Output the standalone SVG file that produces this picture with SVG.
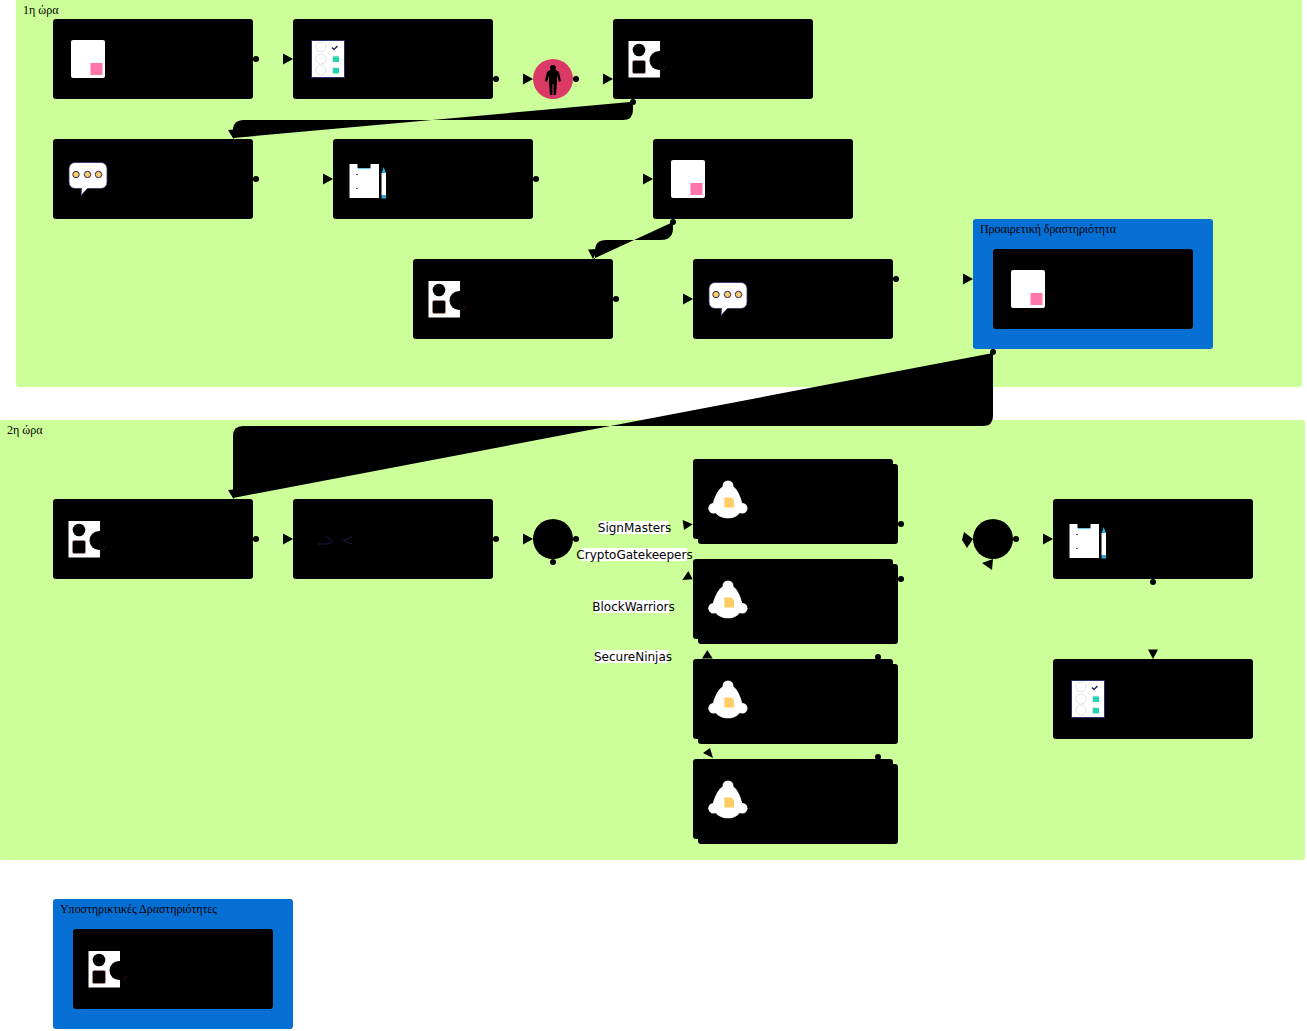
<svg xmlns="http://www.w3.org/2000/svg" width="1307" height="1031" viewBox="0 0 1307 1031">
<style>
.lane{fill:#ccff99}
.box{fill:#000}
.opt{fill:#066fd4}
.t{font-family:"Liberation Serif",serif;font-size:12px;fill:#000}
.l{font-family:"DejaVu Sans",sans-serif;font-size:12px;fill:#000;text-anchor:middle}
.lb{fill:#fff}
.face{fill:#fff;stroke:#dcdcdc;stroke-width:.8}
.nv{fill:none;stroke:#24265e;stroke-width:.8}
</style>
<defs>
<path id="ah" d="M0 0L-10 -5.5L-10 5.5Z"/>
<circle id="dot" r="3"/>
<g id="i-note"><rect x="18" y="21" width="34" height="38" rx="2" fill="#fff"/><rect x="37.500" y="44" width="12" height="12" fill="#ff77aa"/></g>
<g id="i-check"><rect x="18.500" y="21.500" width="33" height="37" fill="#fff" stroke="#2b2e6b"/><circle class="face" cx="28" cy="28" r="5"/><circle class="face" cx="28" cy="40" r="5"/><circle class="face" cx="28" cy="51" r="5"/><path d="M39 28.500l2 2 3.500-3.500" fill="none" stroke="#24265e" stroke-width="1.500"/><rect x="39" y="36.500" width="6" height="6" fill="#e8e8e8"/><rect x="40" y="37.500" width="6" height="5.500" fill="#1fd6b0"/><rect x="39" y="48" width="6" height="6" fill="#e8e8e8"/><rect x="40" y="49" width="6" height="5.500" fill="#1fd6b0"/></g>
<g id="i-shapes"><rect x="15.500" y="22" width="31.500" height="36.500" fill="#fff"/><circle cx="26" cy="31" r="6.300"/><rect x="19.500" y="41.500" width="13" height="13" rx="1.500" stroke="#e88" stroke-width=".4"/><circle cx="46" cy="41.500" r="9.500"/><path d="M54 46.500a9.500 9.500 0 0 1-4 4" fill="none" stroke="#a33" stroke-width=".4"/></g>
<g id="i-chat"><path d="M22 23.500H48a6 6 0 0 1 6 6V43.500a6 6 0 0 1-6 6H34.500L28 56.500L28.500 49.500H22a6 6 0 0 1-6-6V29.500a6 6 0 0 1 6-6Z" fill="#fff" stroke="#2b2e6b" stroke-width=".8"/><circle cx="23" cy="35.500" r="3.200" fill="#ffcc66" stroke="#24265e"/><circle cx="34.500" cy="35.500" r="3.200" fill="#ffcc66" stroke="#24265e"/><circle cx="45.500" cy="35.500" r="3.200" fill="#ffcc66" stroke="#24265e"/></g>
<g id="i-clip"><path d="M16.500 25H24.500V29H37.500V25H46V59H16.500Z" fill="#fff"/><rect x="24.500" y="29.300" width="13" height=".8" fill="#2aa9d8"/><path d="M23 35.200l1 .8 1-1M23 49l1 .8 1-1" fill="none" stroke="#333" stroke-width=".9"/><path d="M48.500 34L50.700 28L53 34Z" fill="#2aa9d8"/><rect x="48.500" y="34" width="4.500" height="22" fill="#fff"/><rect x="48.500" y="56" width="4.500" height="3.500" fill="#2aa9d8"/></g>
<g id="i-bell"><g fill="#fff"><circle cx="35" cy="27" r="5.500"/><circle cx="20.500" cy="49.300" r="5.200"/><circle cx="49.300" cy="49.300" r="5.200"/><path d="M35 26C44 26 48 38 50 48C47 56 42 59.300 35 59.300C28 59.300 22 56 19 48C21 38 26 26 35 26Z"/></g><path d="M31.300 38.500H38.500L41 41V48.500H31.300Z" fill="#ffcc66"/></g>
</defs>

<g id="lanes">
<rect id="lane-1" class="lane" x="16" y="-10" width="1286" height="397" rx="3"/>
<text class="t" x="23" y="14">1η ώρα</text>
<rect id="lane-2" class="lane" x="0" y="420" width="1305" height="440" rx="3"/>
<text class="t" x="7" y="434">2η ώρα</text>
</g>

<g id="connectors">
<path d="M633 101.800V110Q633 120 623 120H244Q233 120 233 130V138Z"/>
<path d="M673 222V228Q673 240 661 240H606Q595 240 595 251V259H593Z"/>
<path d="M993 353V416Q993 426 983 426H243Q233 426 233 436V498Z"/>
<use href="#dot" x="256" y="59"/><use href="#ah" transform="translate(293 59)"/>
<use href="#dot" x="496" y="79"/><use href="#ah" transform="translate(533 79)"/>
<use href="#dot" x="576" y="79"/><use href="#ah" transform="translate(613 79)"/>
<use href="#dot" x="633" y="102"/><path d="M233.500 139L228 130L238 129Z"/>
<use href="#dot" x="256" y="179"/><use href="#ah" transform="translate(333 179)"/>
<use href="#dot" x="536" y="179"/><use href="#ah" transform="translate(653 179)"/>
<use href="#dot" x="673" y="222"/><path d="M593 259L588 249.500L598 249Z"/>
<use href="#dot" x="616" y="299"/><use href="#ah" transform="translate(693 299)"/>
<use href="#dot" x="896" y="279"/><use href="#ah" transform="translate(973 279)"/>
<use href="#dot" x="993" y="352"/><path d="M233.500 499L228 490L238 489Z"/>
<use href="#dot" x="256" y="539"/><use href="#ah" transform="translate(293 539)"/>
<use href="#dot" x="496" y="539"/><use href="#ah" transform="translate(533 539)"/>
<use href="#dot" x="576" y="539"/><use href="#dot" x="553" y="562"/>
<path d="M692.700 524.300L682.700 520L684 530Z"/>
<path d="M692.700 579.300L688.300 571L682.300 580Z"/>
<path d="M707.300 650L702 658.500L712.700 658.500Z"/>
<path d="M710 748L703 753L713 758Z"/>
<use href="#dot" x="901" y="524"/><use href="#dot" x="901" y="579"/><use href="#dot" x="878" y="657"/><use href="#dot" x="878" y="757"/>
<path d="M964 532L973 539L967 548L962 540Z"/>
<path d="M993 559L982 563L992 570Z"/>
<use href="#dot" x="1016" y="539"/><use href="#ah" transform="translate(1053 539)"/>
<use href="#dot" x="1153" y="582"/><path d="M1153 659L1148 649.500H1158Z"/>
</g>

<g id="n1" transform="translate(53 19)"><rect class="box" width="200" height="80" rx="3"/><use href="#i-note"/></g>
<g id="n2" transform="translate(293 19)"><rect class="box" width="200" height="80" rx="3"/><use href="#i-check"/></g>
<g id="ev1"><circle cx="553" cy="79" r="20" fill="#db3a66"/><path d="M553 65a3 3 0 0 1 3 3 3 3 0 0 1-1 2h1l3 2 2 9-2 1-2-7v7l-1 13h-2.500v-11h-1v11H550l-1-13v-7l-2 7-2-1 2-9 3-2h1a3 3 0 0 1-1-2 3 3 0 0 1 3-3Z"/></g>
<g id="n3" transform="translate(613 19)"><rect class="box" width="200" height="80" rx="3"/><use href="#i-shapes"/></g>
<g id="n4" transform="translate(53 139)"><rect class="box" width="200" height="80" rx="3"/><use href="#i-chat"/></g>
<g id="n5" transform="translate(333 139)"><rect class="box" width="200" height="80" rx="3"/><use href="#i-clip"/></g>
<g id="n6" transform="translate(653 139)"><rect class="box" width="200" height="80" rx="3"/><use href="#i-note"/></g>
<g id="n7" transform="translate(413 259)"><rect class="box" width="200" height="80" rx="3"/><use href="#i-shapes"/></g>
<g id="n8" transform="translate(693 259)"><rect class="box" width="200" height="80" rx="3"/><use href="#i-chat"/></g>
<g id="optional"><rect class="opt" x="973" y="219" width="240" height="130" rx="3"/><text class="t" x="980" y="233" textLength="136">Προαιρετική δραστηριότητα</text>
<g id="n9" transform="translate(993 249)"><rect class="box" width="200" height="80" rx="3"/><use href="#i-note"/></g></g>

<g id="n10" transform="translate(53 499)"><rect class="box" width="200" height="80" rx="3"/><use href="#i-shapes"/></g>
<g id="n11" transform="translate(293 499)"><rect class="box" width="200" height="80" rx="3"/><path class="nv" d="M318 544H327Q332 543 332 540.500Q330 538 326 537M351.700 537L343 540.500L351.700 544" transform="translate(-293 -499)"/></g>
<g id="gw1"><circle cx="553" cy="539" r="20"/></g>
<g id="labels">
<rect class="lb" x="599" y="521" width="69" height="13"/><text class="l" x="634.500" y="532">SignMasters</text>
<rect class="lb" x="581" y="548" width="106" height="13"/><text class="l" x="634.500" y="559">CryptoGatekeepers</text>
<rect class="lb" x="595" y="600" width="75" height="13"/><text class="l" x="633.500" y="611">BlockWarriors</text>
<rect class="lb" x="596" y="650" width="72" height="13"/><text class="l" x="633" y="661">SecureNinjas</text>
</g>
<g id="m1" transform="translate(693 459)"><rect class="box" x="5" y="5" width="200" height="80" rx="3"/><rect class="box" width="200" height="80" rx="3"/><use href="#i-bell"/></g>
<g id="m2" transform="translate(693 559)"><rect class="box" x="5" y="5" width="200" height="80" rx="3"/><rect class="box" width="200" height="80" rx="3"/><use href="#i-bell"/></g>
<g id="m3" transform="translate(693 659)"><rect class="box" x="5" y="5" width="200" height="80" rx="3"/><rect class="box" width="200" height="80" rx="3"/><use href="#i-bell"/></g>
<g id="m4" transform="translate(693 759)"><rect class="box" x="5" y="5" width="200" height="80" rx="3"/><rect class="box" width="200" height="80" rx="3"/><use href="#i-bell"/></g>
<g id="gw2"><circle cx="993" cy="539" r="20"/></g>
<g id="n12" transform="translate(1053 499)"><rect class="box" width="200" height="80" rx="3"/><use href="#i-clip"/></g>
<g id="n13" transform="translate(1053 659)"><rect class="box" width="200" height="80" rx="3"/><use href="#i-check"/></g>
<g id="support"><rect class="opt" x="53" y="899" width="240" height="130" rx="3"/><text class="t" x="60" y="913" textLength="157">Υποστηρικτικές Δραστηριότητες</text>
<g id="n14" transform="translate(73 929)"><rect class="box" width="200" height="80" rx="3"/><use href="#i-shapes"/></g></g>
</svg>
